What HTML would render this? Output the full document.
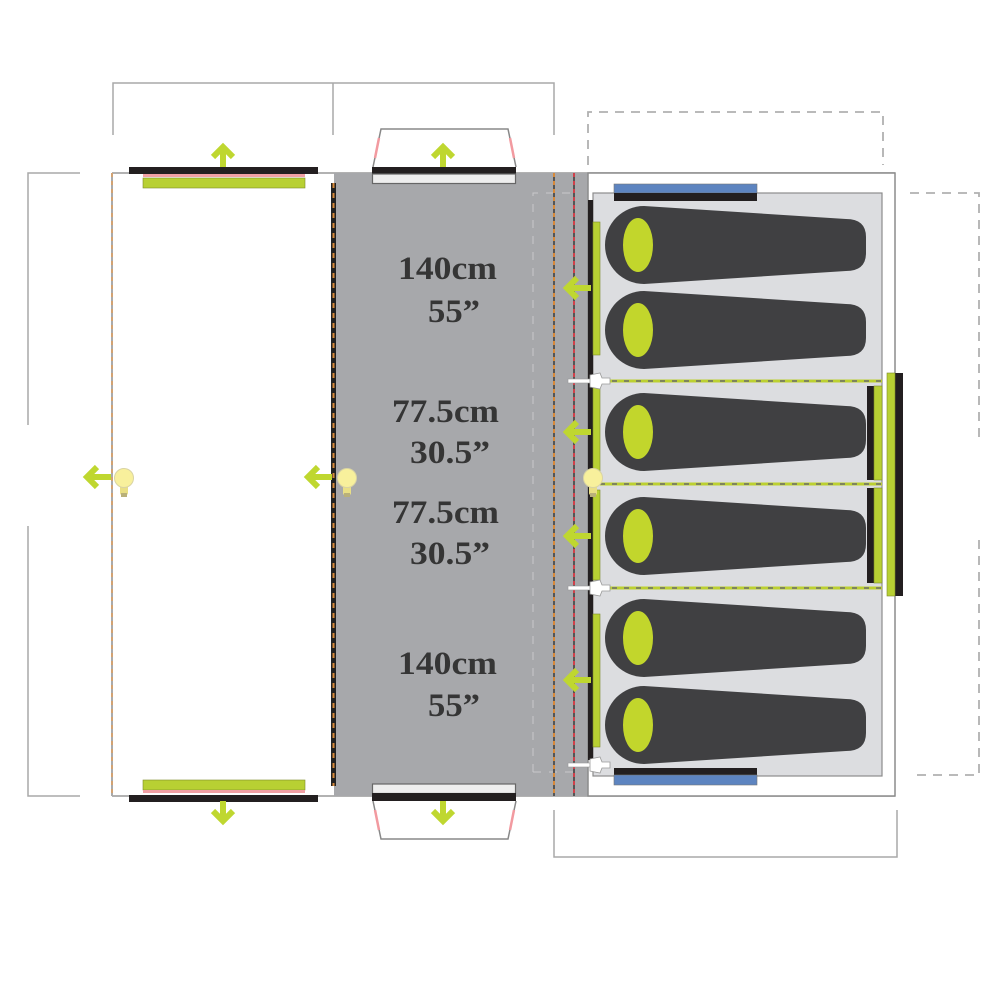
<!DOCTYPE html>
<html><head><meta charset="utf-8"><style>
html,body{margin:0;padding:0;background:#fff;}
svg{display:block;}
</style></head><body>
<svg width="1000" height="1000" viewBox="0 0 1000 1000" xmlns="http://www.w3.org/2000/svg">
<defs>
<g id="bag">
  <path d="M644,-39 L846,-26 Q866,-26 866,-8 L866,8 Q866,26 846,26 L644,39 A39,39 0 0 1 644,-39 Z" fill="#404042"/>
  <ellipse cx="638" cy="0" rx="15" ry="27" fill="#c2d62c"/>
</g>
<g id="bulb">
  <rect x="-4" y="6" width="8" height="11" rx="2" fill="#e9df85"/>
  <rect x="-3" y="15" width="6" height="4" fill="#b9b07a"/>
  <circle cx="0" cy="0" r="9.5" fill="#f8f09c" stroke="#d9d3a3" stroke-width="1"/>
</g>
<g id="larrow" fill="none" stroke="#bfd730" stroke-width="6">
  <line x1="4" y1="0" x2="26" y2="0"/>
  <polyline points="12,-10 2,0 12,10" stroke-linejoin="miter"/>
</g>
<g id="uarrow" fill="none" stroke="#bfd730" stroke-width="6">
  <line x1="0" y1="4" x2="0" y2="22"/>
  <polyline points="-10,12 0,2 10,12"/>
</g>
<g id="plug">
  <rect x="0" y="-2" width="24" height="4" fill="#fff" stroke="#999" stroke-width="0.6"/>
  <path d="M22,-6 L32,-8 L34,-3 L42,-3 L42,3 L34,3 L32,8 L22,6 Z" fill="#fff" stroke="#999" stroke-width="0.8"/>
</g>
</defs>

<!-- dimension lines -->
<g stroke="#a9a9a9" stroke-width="1.5" fill="none">
  <polyline points="113,135 113,83 554,83 554,135"/>
  <line x1="333" y1="83" x2="333" y2="135"/>
  <polyline points="80,173 28,173 28,425"/>
  <polyline points="28,526 28,796 80,796"/>
  <polyline points="554,810 554,857 897,857 897,810"/>
</g>
<g stroke="#b0b0b0" stroke-width="1.8" fill="none" stroke-dasharray="9 7">
  <polyline points="588,165 588,112 883,112 883,165"/>
  <polyline points="910,193 979,193 979,440"/>
  <polyline points="979,540 979,775 910,775"/>
</g>

<!-- porch trapezoids -->
<g stroke="#888" stroke-width="1.5" fill="none">
  <polyline points="373,167 381,129 508,129 516,167"/>
  <polyline points="373,801 381,839 508,839 516,801"/>
</g>
<g stroke="#f29aa0" stroke-width="2.5">
  <line x1="375" y1="158" x2="379" y2="138"/>
  <line x1="514" y1="158" x2="510" y2="138"/>
  <line x1="375" y1="810" x2="379" y2="830"/>
  <line x1="514" y1="810" x2="510" y2="830"/>
</g>

<!-- outer lines -->
<line x1="112" y1="173" x2="895" y2="173" stroke="#999" stroke-width="1.5"/>
<line x1="112" y1="796" x2="895" y2="796" stroke="#999" stroke-width="1.5"/>
<line x1="112" y1="173" x2="112" y2="796" stroke="#aaa" stroke-width="2"/>
<line x1="112" y1="173" x2="112" y2="796" stroke="#e0a060" stroke-width="1.5" stroke-dasharray="4 4"/>

<!-- gray living area -->
<rect x="334" y="173" width="254" height="623" fill="#a7a8ab"/>
<polyline points="533,772 533,193 578,193" fill="none" stroke="#c9c9cb" stroke-width="1" stroke-dasharray="8 8"/>
<line x1="533" y1="772" x2="578" y2="772" stroke="#c9c9cb" stroke-width="1" stroke-dasharray="8 8"/>
<line x1="554" y1="173" x2="554" y2="796" stroke="#555" stroke-width="2"/>
<line x1="554" y1="173" x2="554" y2="796" stroke="#d88a3a" stroke-width="2" stroke-dasharray="4 4"/>
<line x1="574" y1="173" x2="574" y2="796" stroke="#555" stroke-width="2"/>
<line x1="574" y1="173" x2="574" y2="796" stroke="#d0404a" stroke-width="2" stroke-dasharray="4 4"/>
<line x1="588" y1="173" x2="588" y2="796" stroke="#888" stroke-width="1"/>
<!-- left edge of gray -->
<rect x="331" y="183" width="5" height="603" fill="#222"/>
<line x1="333.5" y1="183" x2="333.5" y2="786" stroke="#d88a3a" stroke-width="2" stroke-dasharray="5 5"/>

<!-- bedroom -->
<rect x="588" y="173" width="307" height="623" fill="#fff" stroke="#8c8c8c" stroke-width="1.5"/>
<rect x="593" y="193" width="289" height="583" fill="#dcdde0" stroke="#8c8c8c" stroke-width="1.2"/>
<rect x="588" y="200" width="5" height="560" fill="#231f20"/>
<g fill="#b8d033" stroke="#7c8a2a" stroke-width="0.6">
  <rect x="593" y="222" width="7" height="133"/>
  <rect x="593" y="387" width="7" height="88"/>
  <rect x="593" y="490" width="7" height="90"/>
  <rect x="593" y="614" width="7" height="133"/>
</g>

<!-- blue bars -->
<rect x="614" y="184" width="143" height="9" fill="#5d84c0" stroke="#777" stroke-width="0.6"/>
<rect x="614" y="193" width="143" height="8" fill="#231f20"/>
<rect x="614" y="768" width="143" height="7" fill="#231f20"/>
<rect x="614" y="775" width="143" height="10" fill="#5d84c0" stroke="#777" stroke-width="0.6"/>

<!-- bags -->
<use href="#bag" transform="translate(0,245)"/>
<use href="#bag" transform="translate(0,330)"/>
<use href="#bag" transform="translate(0,432)"/>
<use href="#bag" transform="translate(0,536)"/>
<use href="#bag" transform="translate(0,638)"/>
<use href="#bag" transform="translate(0,725)"/>

<!-- dividers -->
<g>
  <line x1="600" y1="381" x2="882" y2="381" stroke="#bcd030" stroke-width="3"/>
  <line x1="600" y1="381" x2="882" y2="381" stroke="#6a6a6a" stroke-width="1.5" stroke-dasharray="5 7"/>
  <line x1="600" y1="484" x2="882" y2="484" stroke="#bcd030" stroke-width="3"/>
  <line x1="600" y1="484" x2="882" y2="484" stroke="#6a6a6a" stroke-width="1.5" stroke-dasharray="5 7"/>
  <line x1="600" y1="588" x2="882" y2="588" stroke="#bcd030" stroke-width="3"/>
  <line x1="600" y1="588" x2="882" y2="588" stroke="#6a6a6a" stroke-width="1.5" stroke-dasharray="5 7"/>
</g>

<!-- right doors -->
<rect x="867" y="386" width="7" height="94" fill="#231f20"/>
<rect x="874" y="386" width="8" height="94" fill="#b8d033" stroke="#7c8a2a" stroke-width="0.6"/>
<rect x="867" y="488" width="7" height="95" fill="#231f20"/>
<rect x="874" y="488" width="8" height="95" fill="#b8d033" stroke="#7c8a2a" stroke-width="0.6"/>
<rect x="895" y="373" width="8" height="223" fill="#231f20"/>
<rect x="887" y="373" width="8" height="223" fill="#b8d033" stroke="#7c8a2a" stroke-width="0.6"/>

<!-- plugs -->
<use href="#plug" transform="translate(568,381)"/>
<use href="#plug" transform="translate(568,588)"/>
<use href="#plug" transform="translate(568,765)"/>

<!-- left room doors -->
<rect x="129" y="167" width="189" height="7" fill="#231f20"/>
<rect x="143" y="174" width="162" height="3" fill="#f1a0a4"/>
<rect x="143" y="178" width="162" height="10" fill="#b8d033" stroke="#7c8a2a" stroke-width="0.6"/>
<rect x="143" y="780" width="162" height="10" fill="#b8d033" stroke="#7c8a2a" stroke-width="0.6"/>
<rect x="143" y="790" width="162" height="3" fill="#f1a0a4"/>
<rect x="129" y="795" width="189" height="7" fill="#231f20"/>

<!-- porch doors -->
<rect x="372" y="167" width="144" height="7" fill="#231f20"/>
<rect x="372.5" y="174" width="143" height="9.5" fill="#eee" stroke="#666" stroke-width="1.2"/>
<rect x="372.5" y="784" width="143" height="9.5" fill="#eee" stroke="#666" stroke-width="1.2"/>
<rect x="372" y="793" width="144" height="8" fill="#231f20"/>

<!-- arrows -->
<use href="#uarrow" transform="translate(223,145)"/>
<use href="#uarrow" transform="translate(443,145)"/>
<use href="#uarrow" transform="translate(223,823) scale(1,-1)"/>
<use href="#uarrow" transform="translate(443,823) scale(1,-1)"/>
<use href="#larrow" transform="translate(85,477)"/>
<use href="#larrow" transform="translate(306,477)"/>
<use href="#larrow" transform="translate(565,288)"/>
<use href="#larrow" transform="translate(565,432)"/>
<use href="#larrow" transform="translate(565,536)"/>
<use href="#larrow" transform="translate(565,680)"/>

<!-- bulbs -->
<use href="#bulb" transform="translate(124,478)"/>
<use href="#bulb" transform="translate(347,478)"/>
<use href="#bulb" transform="translate(593,478)"/>

<!-- text -->
<g font-family="'Liberation Serif', serif" font-weight="bold" font-size="33" fill="#353535">
  <text x="398" y="279" textLength="99" lengthAdjust="spacingAndGlyphs">140cm</text>
  <text x="428" y="322" textLength="52" lengthAdjust="spacingAndGlyphs">55”</text>
  <text x="392" y="422" textLength="107" lengthAdjust="spacingAndGlyphs">77.5cm</text>
  <text x="410" y="463" textLength="80" lengthAdjust="spacingAndGlyphs">30.5”</text>
  <text x="392" y="523" textLength="107" lengthAdjust="spacingAndGlyphs">77.5cm</text>
  <text x="410" y="564" textLength="80" lengthAdjust="spacingAndGlyphs">30.5”</text>
  <text x="398" y="674" textLength="99" lengthAdjust="spacingAndGlyphs">140cm</text>
  <text x="428" y="716" textLength="52" lengthAdjust="spacingAndGlyphs">55”</text>
</g>
</svg>
</body></html>
